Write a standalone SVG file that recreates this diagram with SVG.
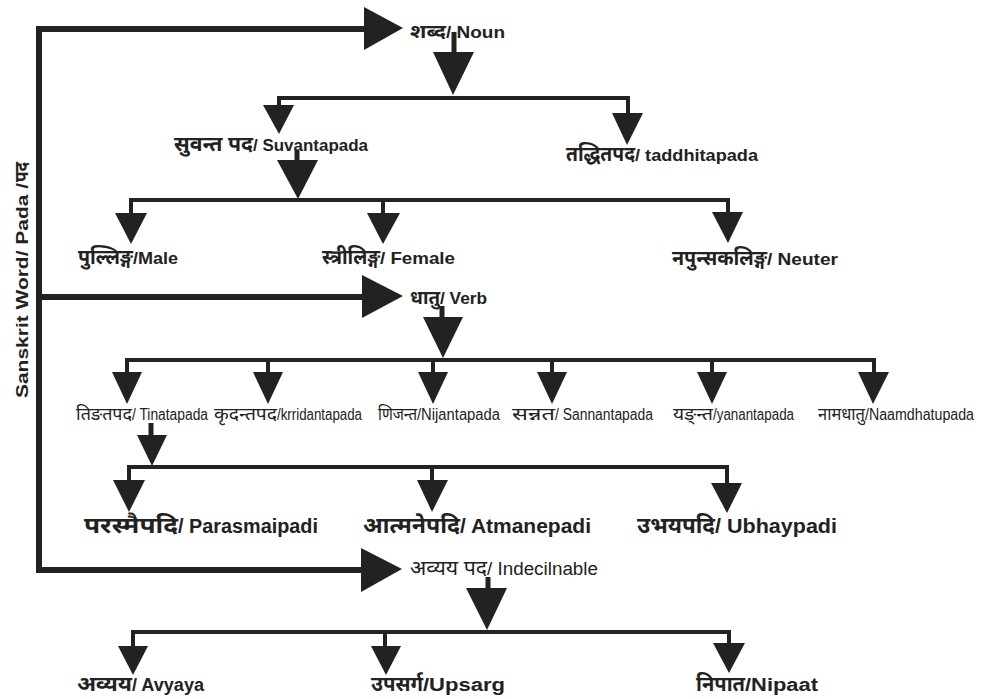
<svg xmlns="http://www.w3.org/2000/svg" width="992" height="699" viewBox="0 0 992 699">
  <style>
    .bg { fill: #ffffff; }
    .trunk { stroke: #222; stroke-width: 6; fill: none; stroke-linejoin: miter; }
    .bar { stroke: #222; stroke-width: 4; fill: none; stroke-linejoin: miter; }
    .stem { stroke: #222; stroke-width: 5; fill: none; }
    .head { fill: #222; }
    text { fill: #222; font-family: "Liberation Sans", "Noto Sans Devanagari", "Noto Sans", sans-serif; }
    .dv { font-family: "Noto Sans Devanagari", "Noto Sans", "Liberation Sans", sans-serif; }
    .b15 { font-size: 17px; font-weight: bold; }
    .b16 { font-size: 17px; font-weight: bold; }
    .b19 { font-size: 20px; font-weight: bold; }
    .b17 { font-size: 18px; font-weight: bold; }
    .r16 { font-size: 18px; }
    .c17 { font-size: 16px; }
    .d15 { font-size: 19px; font-weight: bold; }
    .d16 { font-size: 20px; font-weight: bold; }
    .d19 { font-size: 23px; font-weight: bold; }
    .d17 { font-size: 21px; font-weight: bold; }
    .dr16 { font-size: 20px; }
    .dc17 { font-size: 18px; }
  </style>
  <rect class="bg" x="0" y="0" width="992" height="699"/>

  <g id="connectors">
    <!-- main trunk with its three branches -->
    <path class="trunk" d="M366,29 H39 V570 H362"/>
    <path class="trunk" d="M39,297 H363"/>
    <polygon class="head" points="364,7 403,28 364,50"/>
    <polygon class="head" points="362,275 403,296 362,318"/>
    <polygon class="head" points="361,548 402,569 361,592"/>

    <!-- noun branch -->
    <path class="stem" d="M454,32 V53"/>
    <polygon class="head" points="433,52 474,52 453,95"/>
    <path class="bar" d="M279,107 V98 H628 V115"/>
    <polygon class="head" points="263,105 294,105 279,134"/>
    <polygon class="head" points="612,113 643,113 627,145"/>

    <path class="stem" d="M297,150 V161"/>
    <polygon class="head" points="277,160 318,160 298,199"/>
    <path class="bar" d="M131,214 V200 H728 V213"/>
    <path class="bar" d="M383,200 V214"/>
    <polygon class="head" points="115,213 147,213 131,244"/>
    <polygon class="head" points="367,213 400,213 383,244"/>
    <polygon class="head" points="712,212 743,212 728,243"/>

    <!-- verb branch -->
    <path class="stem" d="M442,306 V318"/>
    <polygon class="head" points="423,317 463,317 443,358"/>
    <path class="bar" d="M127,373 V360 H874 V373"/>
    <path class="bar" d="M268,360 V373 M433,360 V373 M552,360 V373 M712,360 V373"/>
    <polygon class="head" points="112,372 142,372 127,404"/>
    <polygon class="head" points="253,372 283,372 268,404"/>
    <polygon class="head" points="418,372 448,372 433,404"/>
    <polygon class="head" points="537,372 567,372 552,404"/>
    <polygon class="head" points="697,372 727,372 712,404"/>
    <polygon class="head" points="858,372 889,372 873,404"/>

    <path class="stem" d="M151,423 V436"/>
    <polygon class="head" points="137,435 167,435 152,466"/>
    <path class="bar" d="M129,481 V467 H727 V484"/>
    <path class="bar" d="M432,467 V481"/>
    <polygon class="head" points="113,480 145,480 129,512"/>
    <polygon class="head" points="417,480 448,480 432,512"/>
    <polygon class="head" points="711,483 742,483 727,513"/>

    <!-- indeclinable branch -->
    <path class="stem" d="M488,577 V589"/>
    <polygon class="head" points="466,588 507,588 487,630"/>
    <path class="bar" d="M133,647 V632 H729 V644"/>
    <path class="bar" d="M385,632 V647"/>
    <polygon class="head" points="118,646 148,646 133,675"/>
    <polygon class="head" points="371,646 401,646 386,675"/>
    <polygon class="head" points="713,643 745,643 729,673"/>
  </g>

  <!-- each label: Devanagari part, then the Latin part after the slash -->
  <g id="root" transform="translate(28,398) rotate(-90)">
    <text class="b15" x="0" y="0" textLength="215" lengthAdjust="spacingAndGlyphs">Sanskrit Word/ Pada / </text>
    <text class="dv d15" x="216" y="0" textLength="20" lengthAdjust="spacingAndGlyphs">पद</text>
  </g>

  <g id="noun">
    <text class="dv d15" x="410" y="38" textLength="36" lengthAdjust="spacingAndGlyphs">शब्द</text>
    <text class="b15" x="446" y="38" textLength="59" lengthAdjust="spacingAndGlyphs">/ Noun</text>
  </g>
  <g id="suvantapada">
    <text class="dv d16" x="174" y="151" textLength="79" lengthAdjust="spacingAndGlyphs">सुवन्त पद</text>
    <text class="b16" x="253" y="151" textLength="115" lengthAdjust="spacingAndGlyphs">/ Suvantapada</text>
  </g>
  <g id="taddhitapada">
    <text class="dv d16" x="566" y="161" textLength="69" lengthAdjust="spacingAndGlyphs">तद्धितपद</text>
    <text class="b16" x="635" y="161" textLength="123" lengthAdjust="spacingAndGlyphs">/ taddhitapada</text>
  </g>
  <g id="male">
    <text class="dv d16" x="78" y="264" textLength="55" lengthAdjust="spacingAndGlyphs">पुल्लिङ्ग</text>
    <text class="b16" x="133" y="264" textLength="45" lengthAdjust="spacingAndGlyphs">/Male</text>
  </g>
  <g id="female">
    <text class="dv d16" x="322" y="264" textLength="58" lengthAdjust="spacingAndGlyphs">स्त्रीलिङ्ग</text>
    <text class="b16" x="380" y="264" textLength="75" lengthAdjust="spacingAndGlyphs">/ Female</text>
  </g>
  <g id="neuter">
    <text class="dv d16" x="672" y="265" textLength="95" lengthAdjust="spacingAndGlyphs">नपुन्सकलिङ्ग</text>
    <text class="b16" x="767" y="265" textLength="71" lengthAdjust="spacingAndGlyphs">/ Neuter</text>
  </g>

  <g id="verb">
    <text class="dv d15" x="410" y="304" textLength="30" lengthAdjust="spacingAndGlyphs">धातु</text>
    <text class="b15" x="440" y="304" textLength="47" lengthAdjust="spacingAndGlyphs">/ Verb</text>
  </g>
  <g id="tinatapada">
    <text class="dv dc17" x="76" y="420" textLength="56" lengthAdjust="spacingAndGlyphs">तिङतपद</text>
    <text class="c17" x="132" y="420" textLength="76" lengthAdjust="spacingAndGlyphs">/ Tinatapada</text>
  </g>
  <g id="krridantapada">
    <text class="dv dc17" x="214" y="420" textLength="63" lengthAdjust="spacingAndGlyphs">कृदन्तपद</text>
    <text class="c17" x="277" y="420" textLength="85" lengthAdjust="spacingAndGlyphs">/krridantapada</text>
  </g>
  <g id="nijantapada">
    <text class="dv dc17" x="378" y="420" textLength="39" lengthAdjust="spacingAndGlyphs">णिजन्त</text>
    <text class="c17" x="417" y="420" textLength="83" lengthAdjust="spacingAndGlyphs">/Nijantapada</text>
  </g>
  <g id="sannantapada">
    <text class="dv dc17" x="512" y="420" textLength="43" lengthAdjust="spacingAndGlyphs">सन्नत</text>
    <text class="c17" x="555" y="420" textLength="98" lengthAdjust="spacingAndGlyphs">/ Sannantapada</text>
  </g>
  <g id="yanantapada">
    <text class="dv dc17" x="673" y="420" textLength="40" lengthAdjust="spacingAndGlyphs">यङ्न्त</text>
    <text class="c17" x="713" y="420" textLength="81" lengthAdjust="spacingAndGlyphs">/yanantapada</text>
  </g>
  <g id="naamdhatupada">
    <text class="dv dc17" x="818" y="420" textLength="47" lengthAdjust="spacingAndGlyphs">नामधातु</text>
    <text class="c17" x="865" y="420" textLength="109" lengthAdjust="spacingAndGlyphs">/Naamdhatupada</text>
  </g>

  <g id="parasmaipadi">
    <text class="dv d19" x="84" y="533" textLength="94" lengthAdjust="spacingAndGlyphs">परस्मैपदि</text>
    <text class="b19" x="178" y="533" textLength="140" lengthAdjust="spacingAndGlyphs">/ Parasmaipadi</text>
  </g>
  <g id="atmanepadi">
    <text class="dv d19" x="363" y="533" textLength="97" lengthAdjust="spacingAndGlyphs">आत्मनेपदि</text>
    <text class="b19" x="460" y="533" textLength="131" lengthAdjust="spacingAndGlyphs">/ Atmanepadi</text>
  </g>
  <g id="ubhaypadi">
    <text class="dv d19" x="637" y="533" textLength="78" lengthAdjust="spacingAndGlyphs">उभयपदि</text>
    <text class="b19" x="715" y="533" textLength="122" lengthAdjust="spacingAndGlyphs">/ Ubhaypadi</text>
  </g>

  <g id="indeclinable">
    <text class="dv dr16" x="410" y="575" textLength="77" lengthAdjust="spacingAndGlyphs">अव्यय पद</text>
    <text class="r16" x="487" y="575" textLength="111" lengthAdjust="spacingAndGlyphs">/ Indecilnable</text>
  </g>
  <g id="avyaya">
    <text class="dv d17" x="77" y="691" textLength="55" lengthAdjust="spacingAndGlyphs">अव्यय</text>
    <text class="b17" x="132" y="691" textLength="72" lengthAdjust="spacingAndGlyphs">/ Avyaya</text>
  </g>
  <g id="upsarg">
    <text class="dv d17" x="371" y="691" textLength="52" lengthAdjust="spacingAndGlyphs">उपसर्ग</text>
    <text class="b17" x="423" y="691" textLength="82" lengthAdjust="spacingAndGlyphs">/Upsarg</text>
  </g>
  <g id="nipaat">
    <text class="dv d17" x="696" y="691" textLength="49" lengthAdjust="spacingAndGlyphs">निपात</text>
    <text class="b17" x="745" y="691" textLength="73" lengthAdjust="spacingAndGlyphs">/Nipaat</text>
  </g>
</svg>
